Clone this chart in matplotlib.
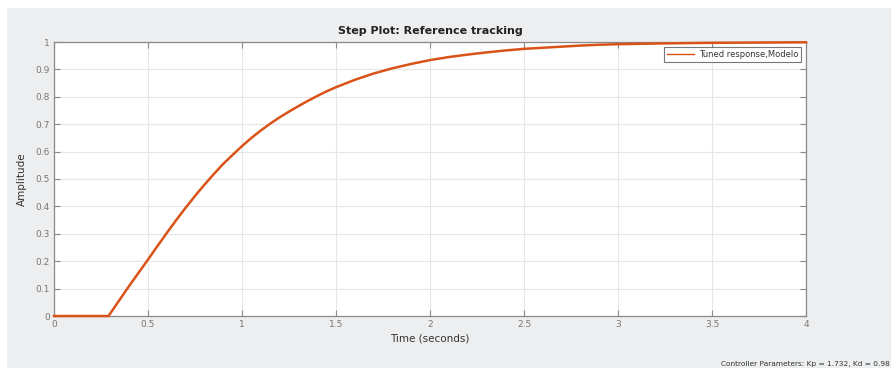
import matplotlib
matplotlib.use("Agg")
import matplotlib.pyplot as plt
from matplotlib.patches import Rectangle

# Data
time_s = [0, 0.29, 0.35, 0.4, 0.45, 0.5, 0.55, 0.6, 0.65, 0.7, 0.75, 0.8, 0.85,
          0.9, 0.95, 1.0, 1.05, 1.1, 1.15, 1.2, 1.25, 1.3, 1.35, 1.4, 1.45, 1.5,
          1.6, 1.7, 1.8, 1.9, 2.0, 2.1, 2.2, 2.3, 2.4, 2.5, 2.6, 2.7, 2.8, 2.9,
          3.0, 3.25, 3.5, 3.75, 4.0]
amplitude = [0, 0, 0.06, 0.11, 0.158, 0.206, 0.255, 0.303, 0.35, 0.395, 0.438, 0.479,
             0.518, 0.555, 0.588, 0.62, 0.65, 0.677, 0.702, 0.725, 0.746, 0.766,
             0.785, 0.803, 0.82, 0.835, 0.862, 0.885, 0.904, 0.92, 0.934, 0.945,
             0.954, 0.962, 0.969, 0.975, 0.979, 0.983, 0.987, 0.99, 0.992, 0.995,
             0.997, 0.998, 0.999]
xticks = [0, 0.5, 1, 1.5, 2, 2.5, 3, 3.5, 4]
xticklabels = ["0", "0.5", "1", "1.5", "2", "2.5", "3", "3.5", "4"]
yticks = [0, 0.1, 0.2, 0.3, 0.4, 0.5, 0.6, 0.7, 0.8, 0.9, 1.0]
yticklabels = ["0", "0.1", "0.2", "0.3", "0.4", "0.5", "0.6", "0.7", "0.8", "0.9", "1"]
legend_label = "Tuned response,Modelo"
title = "Step Plot: Reference tracking"
footer = "Controller Parameters: Kp = 1.732, Kd = 0.98"

W, H = 891, 370
fig = plt.figure(figsize=(W / 100, H / 100), dpi=100, facecolor="white")
bg = Rectangle((7 / W, 2 / H), 1 - 7 / W, (368 - 8) / H,
               transform=fig.transFigure, facecolor="#eceeef",
               edgecolor="none", zorder=-10)
fig.patches.append(bg)

ax = fig.add_axes([54 / W, 1 - 316 / H, (806 - 54) / W, (316 - 42) / H])
ax.set_zorder(1)
ax.set_facecolor("white")
ax.plot(time_s, amplitude, color="#d95319", lw=1.8, label=legend_label,
        solid_joinstyle="round", clip_on=False, zorder=3)

ax.set_xlim(0, 4)
ax.set_ylim(0, 1)
ax.set_xticks(xticks)
ax.set_xticklabels(xticklabels)
ax.set_yticks(yticks)
ax.set_yticklabels(yticklabels)
ax.grid(True, color="#e6e6e6", lw=0.8)
ax.set_axisbelow(True)
ax.tick_params(direction="in", length=4, width=0.8, colors="#8a8a8a",
               labelsize=6.5, labelcolor="#777777", top=True, right=True, pad=3)
for s in ax.spines.values():
    s.set_color("#8a8a8a")
    s.set_linewidth(0.9)

ax.set_title(title, fontsize=8, fontweight="bold", color="#222222", pad=6)
ax.set_xlabel("Time (seconds)", fontsize=7.5, color="#333333", labelpad=3)
ax.set_ylabel("Amplitude", fontsize=7.5, color="#333333", labelpad=6)

leg = ax.legend(loc="upper right", fontsize=6, frameon=True, fancybox=False,
                handlelength=3.2, borderaxespad=0.6, borderpad=0.35,
                handletextpad=0.6)
leg.get_frame().set_edgecolor("#555555")
leg.get_frame().set_linewidth(0.8)
for l in leg.get_lines():
    l.set_linewidth(1.0)
for t in leg.get_texts():
    t.set_color("#333333")

fig.text(721 / W, 1 - 364 / H, footer, fontsize=5.3, color="#333333",
         ha="left", va="center")

fig.savefig("out.png", dpi=100, facecolor="white")
